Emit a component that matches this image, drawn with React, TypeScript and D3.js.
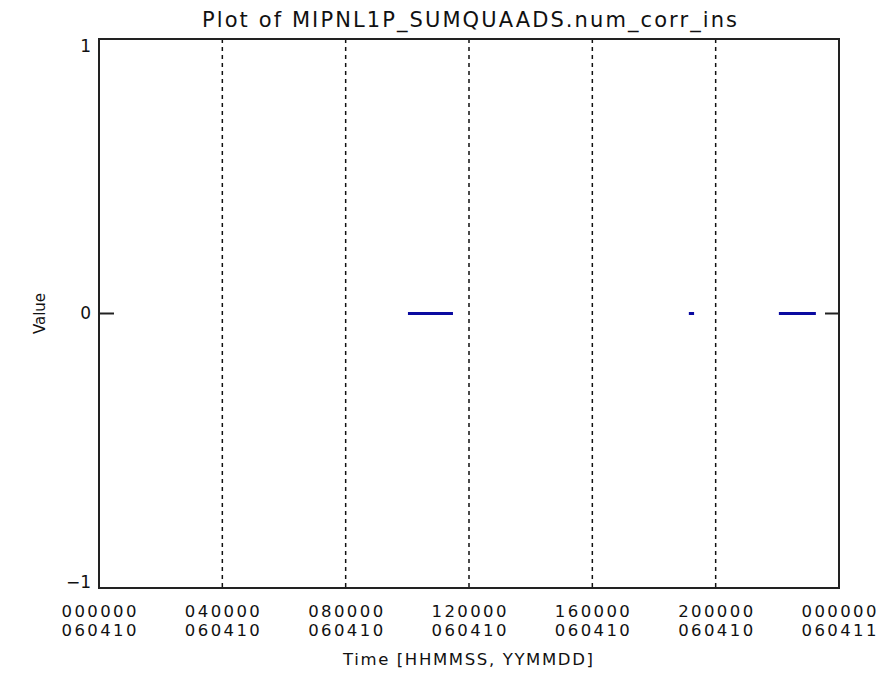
import React from "react"
import * as d3 from "d3"

// time in hours since 000000 060410
const tickHours = [0, 4, 8, 12, 16, 20, 24]
const timeLabels = ["000000", "040000", "080000", "120000", "160000", "200000", "000000"]
const dateLabels = ["060410", "060410", "060410", "060410", "060410", "060410", "060411"]
const gridHours = [4, 8, 12, 16, 20]

const yTicks = [-1, 0, 1]
const yTickLabels = ["\u22121", "0", "1"]

// data segments (start/end hour, value)
const segStart = [10.02, 19.13, 22.05]
const segEnd = [11.48, 19.3, 23.25]
const segValue = [0, 0, 0]

const W = 889
const H = 685
const left = 99
const right = 839
const top = 39
const bottom = 588
const font = "'DejaVu Sans', 'Liberation Sans', sans-serif"

export default function App() {
  const x = d3.scaleLinear().domain([0, 24]).range([left, right])
  const y = d3.scaleLinear().domain([-1, 1]).range([bottom, top])
  const line = d3.line<[number, number]>().x(d => x(d[0])).y(d => y(d[1]))

  return (
    <svg width={W} height={H} style={{ position: "absolute", left: 0, top: 0, background: "#fff" }}>
      <rect x={0} y={0} width={W} height={H} fill="#fff" />
      <text x={202} y={27} fontFamily={font} fontSize={21} fill="#111" textLength={535} lengthAdjust="spacing">
        Plot of MIPNL1P_SUMQUAADS.num_corr_ins
      </text>

      {gridHours.map(h => (
        <line key={h} x1={x(h)} x2={x(h)} y1={top} y2={bottom} stroke="#111" strokeWidth={1.5} strokeDasharray="4,4" />
      ))}

      {segStart.map((s, i) => (
        <path
          key={i}
          d={line([[s, segValue[i]], [segEnd[i], segValue[i]]]) || ""}
          stroke="#0a0aa0"
          strokeWidth={3}
          fill="none"
        />
      ))}

      <rect x={left} y={top} width={right - left} height={bottom - top} fill="none" stroke="#222" strokeWidth={2} />

      {yTicks.map((v, i) => (
        <g key={v}>
          <line x1={left} x2={left + 15} y1={y(v)} y2={y(v)} stroke="#222" strokeWidth={2} />
          <line x1={right - 14} x2={right} y1={y(v)} y2={y(v)} stroke="#222" strokeWidth={2} />
          <text
            x={91}
            y={Math.min(Math.max(y(v) + 5, top + 13), bottom)}
            textAnchor="end"
            fontFamily={font}
            fontSize={17}
            fill="#111"
          >
            {yTickLabels[i]}
          </text>
        </g>
      ))}

      {tickHours.map((h, i) => (
        <g key={i}>
          <text x={x(h)} y={617} textAnchor="middle" fontFamily={font} fontSize={16.5} fill="#111" textLength={75} lengthAdjust="spacing">
            {timeLabels[i]}
          </text>
          <text x={x(h)} y={636} textAnchor="middle" fontFamily={font} fontSize={16.5} fill="#111" textLength={75} lengthAdjust="spacing">
            {dateLabels[i]}
          </text>
        </g>
      ))}

      <text x={343} y={665} fontFamily={font} fontSize={16.5} fill="#111" textLength={250} lengthAdjust="spacing">
        Time [HHMMSS, YYMMDD]
      </text>

      <text
        transform={`translate(45, ${(top + bottom) / 2}) rotate(-90)`}
        textAnchor="middle"
        fontFamily={font}
        fontSize={15}
        fill="#111"
      >
        Value
      </text>
    </svg>
  )
}
